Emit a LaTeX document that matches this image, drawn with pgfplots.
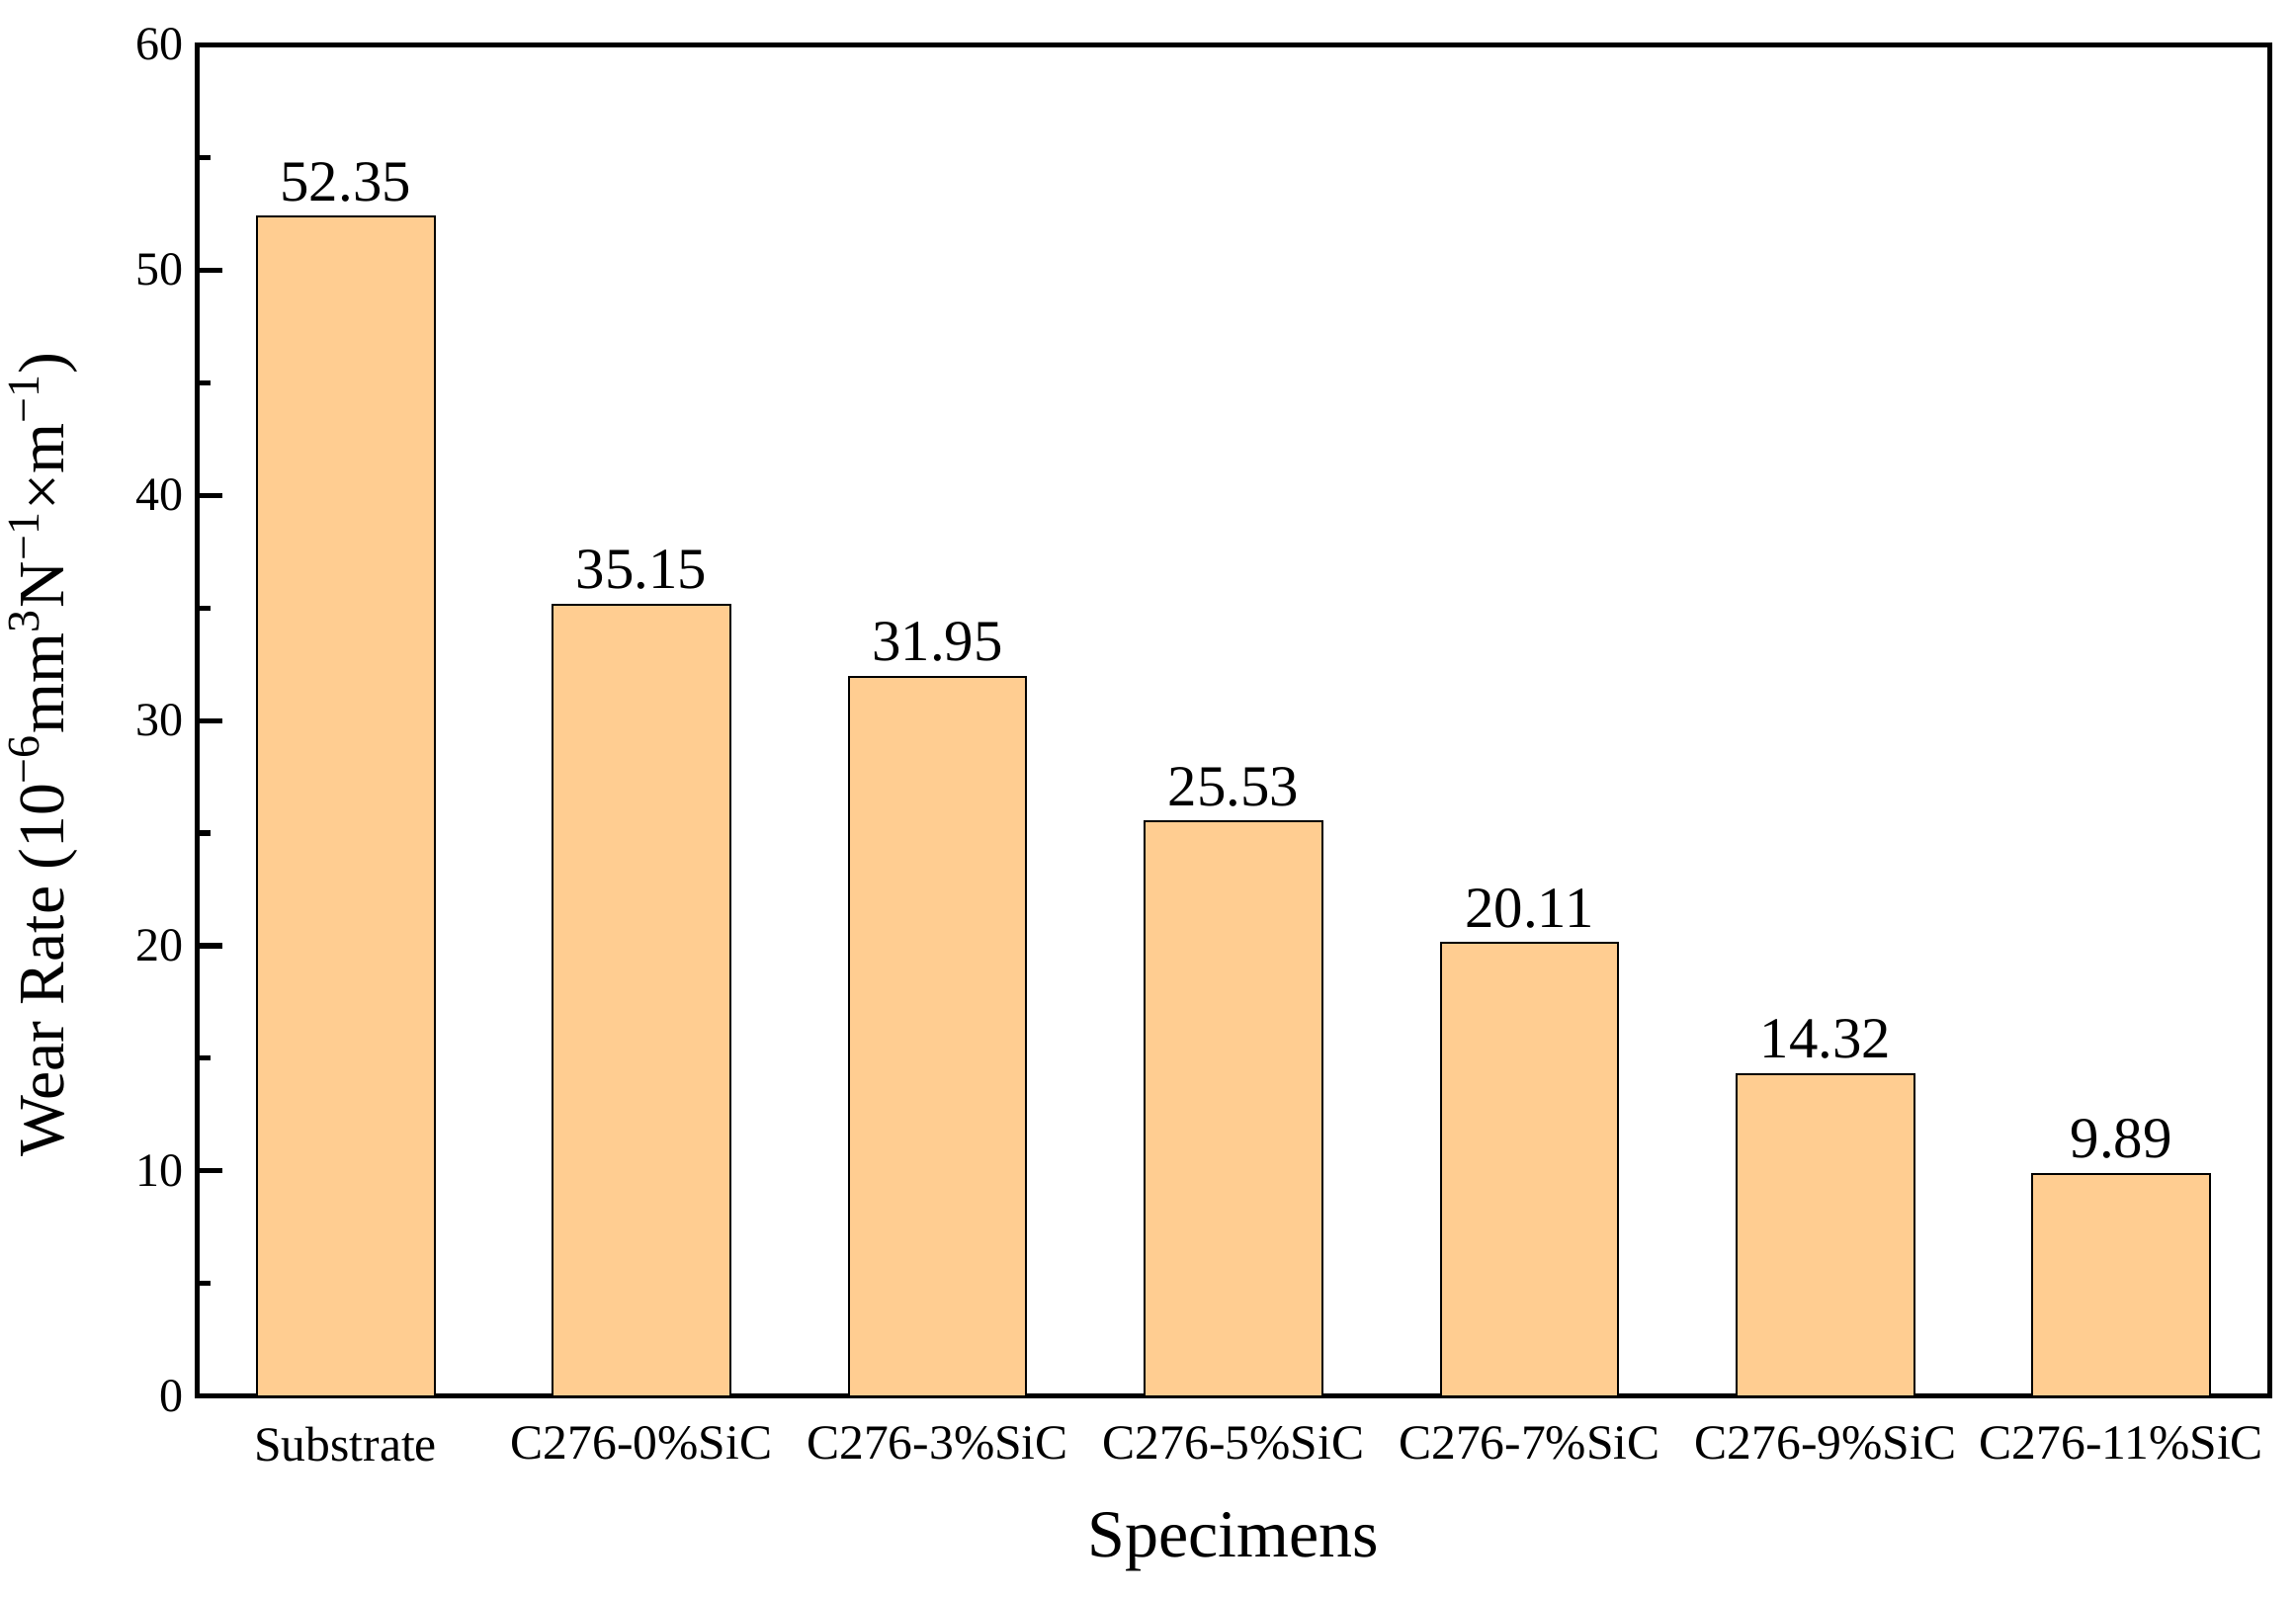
\documentclass[border=0pt]{standalone}
\usepackage{pgfplots}
\pgfplotsset{compat=1.18}
\usepackage{fontspec}
\setmainfont{Liberation Serif}
\definecolor{barfill}{HTML}{FFCD91}
\begin{document}
\begin{tikzpicture}
\begin{axis}[
  scale only axis,
  width=524pt, height=342pt,
  xmin=-0.5, xmax=6.5,
  ymin=0, ymax=60,
  axis line style={line width=1.25pt},
  ybar, bar width=0.6,
  xtick=data,
  xticklabels={Substrate, C276-0\%SiC, C276-3\%SiC, C276-5\%SiC, C276-7\%SiC, C276-9\%SiC, C276-11\%SiC},
  x tick style={draw=none},
  x tick label style={font=\fontsize{12.4pt}{14pt}\selectfont, yshift=-4.2pt},
  ytick={0,10,20,30,40,50,60},
  minor y tick num=1,
  ytick pos=left,
  tick align=inside,
  major tick length=6.25pt,
  minor tick length=3.2pt,
  y tick style={line width=1.25pt, black},
  y tick label style={font=\fontsize{12pt}{14pt}\selectfont},
  /pgf/number format/assume math mode=true,
  xlabel={Specimens},
  ylabel={Wear Rate (10\textsuperscript{−6}mm\textsuperscript{3}N\textsuperscript{−1}×m\textsuperscript{−1})},
  every axis x label/.append style={at={(axis description cs:0.5,-0.1075)}, anchor=center, font=\fontsize{17pt}{20pt}\selectfont},
  every axis y label/.append style={at={(axis description cs:-0.0744,0.475)}, anchor=center, font=\fontsize{16.4pt}{19pt}\selectfont},
  nodes near coords,
  nodes near coords style={font=\fontsize{14.7pt}{17pt}\selectfont, anchor=south, inner sep=0pt, yshift=3.5pt, /pgf/number format/.cd, fixed, precision=2, fixed zerofill},
  clip=false,
]
\addplot[fill=barfill, draw=black, line width=0.5pt] coordinates {
  (0,52.35) (1,35.15) (2,31.95) (3,25.53) (4,20.11) (5,14.32) (6,9.89)
};
\end{axis}
\pgfresetboundingbox
\path (current axis.south west) ++(-50pt,-50.75pt) rectangle ++(580.75pt,404pt);
\end{tikzpicture}
\end{document}
